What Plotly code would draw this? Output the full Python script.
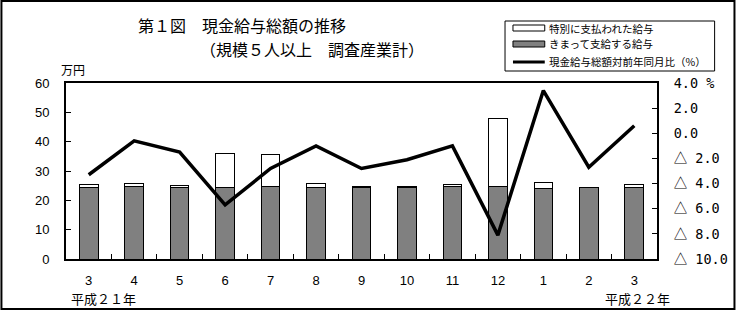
import plotly.graph_objects as go

# Monthly cash earnings (10,000 yen) and year-on-year change (%)
months = ["3", "4", "5", "6", "7", "8", "9", "10", "11", "12", "1", "2", "3"]
scheduled_pay = [24.4, 24.6, 24.4, 24.4, 24.7, 24.5, 24.5, 24.5, 24.7, 24.7, 24.0, 24.3, 24.5]
special_pay = [1.0, 1.1, 0.6, 11.6, 11.0, 1.1, 0.3, 0.3, 0.7, 23.3, 2.1, 0.2, 0.8]
yoy_change = [-3.3, -0.6, -1.5, -5.7, -2.8, -1.0, -2.8, -2.1, -1.0, -8.1, 3.4, -2.7, 0.6]

left_ticks = [0, 10, 20, 30, 40, 50, 60]
right_ticks = [4, 2, 0, -2, -4, -6, -8, -10]
TRI = "<span style='font-family:Noto Sans CJK JP'>△</span>"
right_labels = ["4.0 %", "2.0", "0.0", TRI + " 2.0", TRI + " 4.0",
                TRI + " 6.0", TRI + " 8.0", TRI + " 10.0"]

W, H = 740, 310
L, R, T, B = 66, 79, 83, 51
PW, PH = W - L - R, H - T - B


def px(x):
    return (x - L) / PW


def py(y):
    return (H - B - y) / PH


JP = "Noto Sans CJK JP"
NUM = "Liberation Sans"
x = list(range(len(months)))

fig = go.Figure()
fig.add_trace(go.Bar(
    x=x, y=scheduled_pay, name="きまって支給する給与", width=0.41,
    marker=dict(color="#808080", line=dict(color="black", width=1)),
    yaxis="y",
))
fig.add_trace(go.Bar(
    x=x, y=special_pay, name="特別に支払われた給与", width=0.41,
    marker=dict(color="white", line=dict(color="black", width=1)),
    yaxis="y",
))
fig.add_trace(go.Scatter(
    x=x, y=yoy_change, name="現金給与総額対前年同月比（%）", mode="lines",
    line=dict(color="black", width=3.5), yaxis="y2",
))

fig.update_layout(
    width=W, height=H,
    margin=dict(l=L, r=R, t=T, b=B),
    paper_bgcolor="white", plot_bgcolor="white",
    barmode="stack", showlegend=False,
    xaxis=dict(
        range=[-0.5, len(months) - 0.5],
        tickmode="array", tickvals=x, ticktext=months,
        ticks="", showgrid=False, zeroline=False,
        showline=True, linecolor="black", linewidth=2, mirror=True,
        tickfont=dict(family=NUM, size=13, color="black"),
        ticklabelstandoff=8,
        minor=dict(tickvals=[i + 0.5 for i in x[:-1]], ticks="inside",
                   ticklen=5, tickcolor="black", tickwidth=1, showgrid=False),
    ),
    yaxis=dict(
        range=[0, 60], tickmode="array", tickvals=left_ticks,
        ticks="inside", ticklen=5, tickcolor="black",
        showgrid=False, zeroline=False,
        showline=True, linecolor="black", linewidth=2,
        tickfont=dict(family=NUM, size=13, color="black"),
        ticklabelstandoff=12,
    ),
    yaxis2=dict(
        range=[-10, 4], overlaying="y", side="right",
        tickmode="array", tickvals=right_ticks, ticktext=right_labels,
        ticks="inside", ticklen=5, tickcolor="black",
        showgrid=False, zeroline=False,
        showline=True, linecolor="black", linewidth=2,
        tickfont=dict(family="DejaVu Sans Mono", size=13.5, color="black"),
        ticklabelstandoff=12,
    ),
)

shapes = [
    # outer frame
    dict(type="rect", xref="paper", yref="paper",
         x0=px(1), x1=px(W - 1), y0=py(H - 1), y1=py(1),
         line=dict(color="black", width=2), fillcolor="rgba(0,0,0,0)"),
    # legend box
    dict(type="rect", xref="paper", yref="paper",
         x0=px(508), x1=px(719), y0=py(71), y1=py(21),
         line=dict(color="black", width=1), fillcolor="white"),
    # legend symbols
    dict(type="rect", xref="paper", yref="paper",
         x0=px(516), x1=px(548), y0=py(31), y1=py(25),
         line=dict(color="black", width=1), fillcolor="white"),
    dict(type="rect", xref="paper", yref="paper",
         x0=px(516), x1=px(548), y0=py(47), y1=py(41),
         line=dict(color="black", width=1), fillcolor="#808080"),
    dict(type="line", xref="paper", yref="paper",
         x0=px(516), x1=px(548), y0=py(62), y1=py(62),
         line=dict(color="black", width=3)),
]
fig.update_layout(shapes=shapes)

# Two title lines
annotations = [
    dict(text="第１図　現金給与総額の推移", x=px(136), y=py(25)),
    dict(text="（規模５人以上　調査産業計）", x=px(199), y=py(49)),
]
for a in annotations:
    a.update(xref="paper", yref="paper", xanchor="left", yanchor="middle",
             showarrow=False, font=dict(family=JP, size=16, color="black"))

legend_rows = [("特別に支払われた給与", 28), ("きまって支給する給与", 44),
               ("現金給与総額対前年同月比（%）", 62)]
for label, yy in legend_rows:
    annotations.append(dict(
        text=label, x=px(550), y=py(yy), xref="paper", yref="paper",
        xanchor="left", yanchor="middle", showarrow=False,
        font=dict(family=JP, size=10.5, color="black")))

annotations += [
    dict(text="万円", x=px(59), y=py(70), xref="paper", yref="paper",
         xanchor="left", yanchor="middle", showarrow=False,
         font=dict(family=JP, size=12, color="black")),
    dict(text="平成２１年", x=px(69), y=py(298), xref="paper", yref="paper",
         xanchor="left", yanchor="middle", showarrow=False,
         font=dict(family=JP, size=13, color="black")),
    dict(text="平成２２年", x=px(607), y=py(298), xref="paper", yref="paper",
         xanchor="left", yanchor="middle", showarrow=False,
         font=dict(family=JP, size=13, color="black")),
]
fig.update_layout(annotations=annotations)

fig.write_html("out.html")
